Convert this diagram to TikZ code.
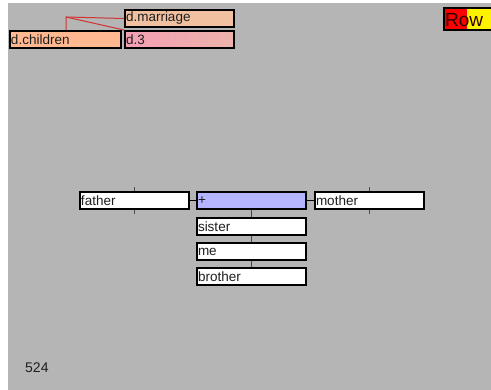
\documentclass[tikz,border=0pt]{standalone}
\usepackage{fontspec}
\setmainfont{Liberation Sans}
\definecolor{bg}{RGB}{181,181,181}
\definecolor{txt}{RGB}{30,30,30}
\definecolor{peach}{RGB}{240,192,160}
\definecolor{salmon}{RGB}{255,184,144}
\definecolor{pinkl}{RGB}{244,160,180}
\definecolor{pinkr}{RGB}{236,178,170}
\definecolor{lav}{RGB}{180,180,255}
\definecolor{redline}{RGB}{210,50,50}
\definecolor{conn}{RGB}{70,70,70}
\tikzset{
  box/.style={draw=black, line width=2pt, fill=white, anchor=north west,
    minimum width=109pt, minimum height=17pt, inner xsep=1pt, inner ysep=0pt,
    text width=107pt, align=left, font=\fontsize{13.5}{15}\selectfont, text=txt},
  link/.style={draw=conn, line width=1pt},
  tick/.style={draw=black!70, line width=1.5pt},
  rel/.style={draw=redline, line width=1pt}
}
\begin{document}
\begin{tikzpicture}[x=1pt,y=-1pt]
\useasboundingbox (0,0) rectangle (491,390);
\fill[white] (0,0) rectangle (491,390);
\fill[bg] (8,3) rectangle (491,390);
% top family boxes
\node[box, fill=peach] (marriage) at (124,9) {d.marriage};
\node[box, left color=pinkl, right color=pinkr] (d3) at (124,30) {d.3};
\node[box, fill=salmon, minimum width=111pt, text width=109pt] (children) at (9,30) {d.children};
\coordinate (j) at (66,17);
\draw[rel] (children.north -| j) -- (j) -- (marriage.west);
\draw[rel] (j) -- (d3.north west);
% Row indicator
\fill[red] (444,8) rectangle (467,30);
\fill[yellow] (467,8) rectangle (491,30);
\draw[black, line width=2pt] (491,8) -- (444,8) -- (444,30) -- (491,30);
\node[anchor=west, inner sep=0pt, font=\fontsize{19}{20}\selectfont, text={rgb,255:red,45;green,0;blue,0}] (row) at (445,20) {Row};
% main boxes
\node[box, fill=lav] (plus) at (196,191) {+};
\node[box] (father) at (79,191) {father};
\node[box] (mother) at (314,191) {mother};
\node[box] (sister) at (196,217) {sister};
\node[box] (me) at (196,242) {me};
\node[box] (brother) at (196,267) {brother};
\draw[link, draw=black] (father.east) -- (plus.west);
\draw[link, draw=black] (plus.east) -- (mother.west);
\draw[link] (plus.south) -- (sister.north);
\draw[link] (sister.south) -- (me.north);
\draw[link] (me.south) -- (brother.north);
% ticks
\foreach \n in {father,mother}{
  \draw[tick] (\n.north) -- ++(0,-4);
  \draw[tick] (\n.south) -- ++(0,4);
}
\node[anchor=west, inner sep=0pt, font=\fontsize{14}{15}\selectfont, text=txt] (num) at (25,368) {524};
\end{tikzpicture}
\end{document}
